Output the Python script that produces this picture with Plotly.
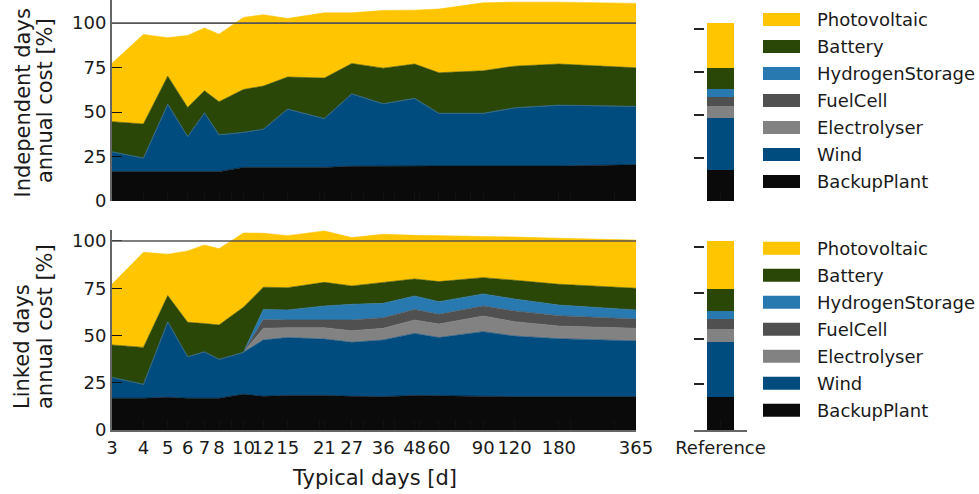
import math
import plotly.graph_objects as go

# ---------------- data ----------------
days = [3, 4, 5, 6, 7, 8, 10, 12, 15, 21, 27, 36, 48, 60, 90, 120, 180, 365]
day_labels = [str(d) for d in days]
minor_days = [9, 20, 30, 40, 50, 70, 80, 200, 300]

series_names = ["BackupPlant", "Wind", "Electrolyser", "FuelCell",
                "HydrogenStorage", "Battery", "Photovoltaic"]
colors = {
    "BackupPlant": "#0a0a0a",
    "Wind": "#004c7f",
    "Electrolyser": "#828282",
    "FuelCell": "#505050",
    "HydrogenStorage": "#2979b1",
    "Battery": "#2b4708",
    "Photovoltaic": "#ffc500",
}

# Independent days (upper panel), annual cost share [%]
ind_backup = [16.5, 16.5, 16.5, 16.5, 16.5, 16.5, 18.9, 18.9, 18.9, 18.9, 19.5, 19.7, 19.7, 19.7, 19.7, 19.7, 19.7, 20.4]
ind_wind = [11.2, 7.7, 38.0, 19.8, 33.1, 20.8, 19.7, 21.5, 32.8, 27.5, 40.8, 35.0, 38.0, 29.6, 29.6, 32.7, 34.2, 32.8]
ind_electrolyser = [0.0] * 18
ind_fuelcell = [0.0] * 18
ind_h2 = [0.0] * 18
ind_battery = [16.9, 19.1, 15.7, 16.3, 12.4, 18.5, 24.1, 24.2, 18.0, 22.7, 17.0, 20.0, 19.3, 22.8, 23.9, 23.4, 23.1, 21.7]
ind_pv = [32.8, 50.3, 21.6, 40.5, 35.2, 38.0, 40.5, 40.1, 32.9, 36.7, 28.5, 32.4, 30.3, 35.8, 38.2, 36.0, 34.8, 36.2]

# Linked days (lower panel)
lnk_backup = [16.8, 16.8, 17.3, 16.8, 16.8, 16.8, 18.9, 17.8, 18.3, 18.3, 17.8, 17.6, 18.3, 18.1, 17.6, 17.6, 17.6, 17.6]
lnk_wind = [11.1, 7.4, 40.0, 22.0, 24.6, 20.6, 22.2, 29.8, 30.6, 29.8, 28.6, 30.0, 32.8, 30.8, 34.4, 32.1, 30.7, 29.5]
lnk_electrolyser = [0, 0, 0, 0, 0, 0, 0, 6.2, 5.2, 6.0, 6.1, 6.2, 7.1, 7.2, 8.3, 7.6, 6.7, 6.7]
lnk_fuelcell = [0, 0, 0, 0, 0, 0, 0, 4.6, 4.1, 4.1, 5.7, 5.6, 5.6, 5.1, 5.3, 5.7, 5.5, 4.9]
lnk_h2 = [0, 0, 0, 0, 0, 0, 0, 5.4, 5.3, 7.4, 8.3, 7.6, 7.1, 6.7, 6.4, 6.3, 5.6, 4.8]
lnk_battery = [17.1, 19.5, 13.8, 18.2, 14.9, 18.2, 23.8, 11.7, 11.8, 12.5, 9.7, 10.9, 9.0, 10.6, 8.6, 9.9, 11.0, 11.5]
lnk_pv = [32.1, 50.3, 21.9, 37.7, 41.6, 40.3, 39.3, 28.6, 27.5, 27.2, 25.6, 25.6, 23.1, 24.3, 22.0, 22.9, 24.3, 25.5]

# Reference design
ref_label = ["Reference"]
ref_values = {"BackupPlant": 18.3, "Wind": 30.0, "Electrolyser": 7.0, "FuelCell": 5.4,
              "HydrogenStorage": 4.5, "Battery": 12.1, "Photovoltaic": 26.2}

yticks = [0, 25, 50, 75, 100]

ind = dict(zip(series_names, [ind_backup, ind_wind, ind_electrolyser, ind_fuelcell, ind_h2, ind_battery, ind_pv]))
lnk = dict(zip(series_names, [lnk_backup, lnk_wind, lnk_electrolyser, lnk_fuelcell, lnk_h2, lnk_battery, lnk_pv]))

# ---------------- layout helpers ----------------
W, H = 979, 494
def px(x):
    return x / W
def py(y):
    return 1 - y / H

FONT = "DejaVu Sans"
TXT = "#1a1a1a"

fig = go.Figure()

for name in series_names:
    fig.add_trace(go.Scatter(x=days, y=ind[name], xaxis="x", yaxis="y", stackgroup="ind",
                             mode="lines", line=dict(width=0.6, color=colors[name]),
                             fillcolor=colors[name], name=name, showlegend=False))
for name in series_names:
    fig.add_trace(go.Scatter(x=days, y=lnk[name], xaxis="x2", yaxis="y2", stackgroup="lnk",
                             mode="lines", line=dict(width=0.6, color=colors[name]),
                             fillcolor=colors[name], name=name, showlegend=False))
for xa, ya in (("x3", "y3"), ("x4", "y4")):
    for name in series_names:
        fig.add_trace(go.Bar(x=ref_label, y=[ref_values[name]], xaxis=xa, yaxis=ya,
                             width=0.51, marker=dict(color=colors[name], line=dict(width=0)),
                             name=name, showlegend=False))

xrange_log = [math.log10(days[0]), math.log10(days[-1])]
main_x = [px(112), px(636)]
bar_x = [px(694), px(747)]
up_y = [py(201), py(0)]
lo_y = [py(430), py(230)]

common_x = dict(type="log", range=xrange_log, tickmode="array", tickvals=days, ticktext=day_labels,
                ticks="inside", ticklen=10, tickwidth=1.2, tickcolor="#111", tickangle=0,
                minor=dict(ticks="inside", ticklen=10, tickwidth=1.2, tickcolor="#111",
                           tickmode="array", tickvals=minor_days),
                showgrid=False, zeroline=False, automargin=False,
                tickfont=dict(family=FONT, size=18, color=TXT))
common_y = dict(tickmode="array", tickvals=yticks, ticks="inside", ticklen=10, tickwidth=1.2,
                tickcolor="#111", showline=True, linecolor="#666", linewidth=2, showgrid=False,
                zeroline=False, automargin=False, tickfont=dict(family=FONT, size=18, color=TXT))

fig.update_layout(
    template="none",
    width=W, height=H, autosize=False,
    margin=dict(l=0, r=0, t=0, b=0, pad=0),
    paper_bgcolor="white", plot_bgcolor="white",
    barmode="stack",
    font=dict(family=FONT, size=18, color=TXT),
    xaxis=dict(common_x, domain=main_x, anchor="y", showticklabels=False, showline=False),
    yaxis=dict(common_y, domain=up_y, anchor="x", range=[0, 113]),
    xaxis2=dict(common_x, domain=main_x, anchor="y2", showline=True, linecolor="#666", linewidth=2),
    yaxis2=dict(common_y, domain=lo_y, anchor="x2", range=[0, 105.8]),
    xaxis3=dict(domain=bar_x, anchor="y3", range=[-0.5, 0.5], showticklabels=False, ticks="inside",
                ticklen=10, tickwidth=1.2, tickcolor="#111", showgrid=False, showline=False,
                automargin=False),
    yaxis3=dict(domain=up_y, anchor="x3", range=[0, 116.9], tickvals=yticks, showticklabels=False,
                ticks="inside", ticklen=10, tickwidth=1.5, tickcolor="#222", showgrid=False,
                zeroline=False, showline=False, automargin=False),
    xaxis4=dict(domain=bar_x, anchor="y4", range=[-0.5, 0.5], ticks="inside", ticklen=10,
                tickwidth=1.2, tickcolor="#111", showgrid=False, showline=True, linecolor="#666",
                linewidth=2, automargin=False, tickfont=dict(family=FONT, size=18, color=TXT)),
    yaxis4=dict(domain=lo_y, anchor="x4", range=[0, 109.5], tickvals=yticks, showticklabels=False,
                ticks="inside", ticklen=10, tickwidth=1.5, tickcolor="#222", showgrid=False,
                zeroline=False, showline=False, automargin=False),
)

shapes = []
annotations = []
# 100 % reference lines
for yref in ("y", "y2"):
    shapes.append(dict(type="line", xref=("x domain" if yref == "y" else "x2 domain"), yref=yref,
                       x0=0, x1=1, y0=100, y1=100, line=dict(color="#555", width=1.6), layer="above"))

# legends (one per panel)
legend_order = ["Photovoltaic", "Battery", "HydrogenStorage", "FuelCell", "Electrolyser", "Wind", "BackupPlant"]
for top in (19.5, 248.3):
    for i, name in enumerate(legend_order):
        cy = top + 27 * i
        shapes.append(dict(type="rect", xref="paper", yref="paper", x0=px(763), x1=px(800),
                           y0=py(cy + 6.5), y1=py(cy - 6.5), fillcolor=colors[name],
                           line=dict(width=0)))
        annotations.append(dict(text=name, xref="paper", yref="paper", x=px(815), y=py(cy),
                                xanchor="left", yanchor="middle", showarrow=False,
                                font=dict(family=FONT, size=18, color=TXT)))

# axis titles
for text, cx, cy in (("Independent days", 22, 103.5), ("annual cost [%]", 45, 101),
                     ("Linked days", 22, 347), ("annual cost [%]", 45, 327)):
    annotations.append(dict(text=text, xref="paper", yref="paper", x=px(cx), y=py(cy),
                            xanchor="center", yanchor="middle", textangle=-90, showarrow=False,
                            font=dict(family=FONT, size=21, color=TXT)))
annotations.append(dict(text="Typical days [d]", xref="paper", yref="paper", x=px(374), y=py(478),
                        xanchor="center", yanchor="middle", showarrow=False,
                        font=dict(family=FONT, size=21, color=TXT)))

fig.update_layout(shapes=shapes, annotations=annotations)

fig.write_html("out.html", config={"displayModeBar": False},
               post_script="document.body.style.margin='0';")
